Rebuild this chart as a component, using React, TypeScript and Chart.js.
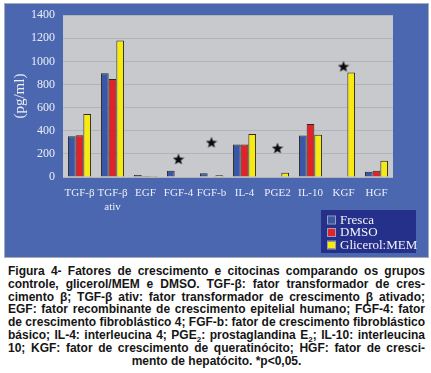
import React, { useEffect, useRef } from "react";
import { Chart, registerables } from "chart.js";

Chart.register(...registerables);

const categories: (string | string[])[] = [
  "TGF-β",
  ["TGF-β", "ativ"],
  "EGF",
  "FGF-4",
  "FGF-b",
  "IL-4",
  "PGE2",
  "IL-10",
  "KGF",
  "HGF",
];
const seriesLabels = ["Fresca", "DMSO", "Glicerol:MEM"];
const fresca = [353, 897, 17, 54, 32, 282, 0, 359, 0, 46];
const dmso = [362, 847, 8, 0, 0, 282, 0, 459, 0, 54];
const glicerolMem = [546, 1181, 8, 0, 15, 373, 37, 365, 905, 140];
// positions of significance stars (*p<0,05), in pg/ml
const significance = [null, null, null, 155, 300, null, 250, null, 957, null];
const yMin = 0;
const yMax = 1400;
const yStep = 200;
const yTitle = "(pg/ml)";

const colors = {
  frame: "#4a67b0",
  frameEdge: "#a9acb8",
  plot: "#c8c9cd",
  grid: "#b3b4ba",
  tick: "#eceff8",
  legendBox: "#25308b",
  fresca: "#3a56a8",
  dmso: "#e4202a",
  glicerol: "#f6ea12",
  barBorder: "#2c2a1c",
};

const subStyle: React.CSSProperties = { fontSize: "8px", verticalAlign: "-3px", lineHeight: 0 };

const captionLines: React.ReactNode[] = [
  "Figura 4- Fatores de crescimento e citocinas comparando os grupos",
  "controle, glicerol/MEM e DMSO. TGF-β: fator transformador de cres-",
  "cimento β; TGF-β ativ: fator transformador de crescimento β ativado;",
  "EGF: fator recombinante de crescimento epitelial humano; FGF-4: fator",
  "de crescimento fibroblástico 4; FGF-b: fator de crescimento fibroblástico",
  <>
    básico; IL-4: interleucina 4; PGE<sub style={subStyle}>2</sub>: prostaglandina E
    <sub style={subStyle}>2</sub>; IL-10: interleucina
  </>,
  "10; KGF: fator de crescimento de queratinócito; HGF: fator de cresci-",
];
const captionLast = "mento de hepatócito. *p<0,05.";

function makeStar(size: number): HTMLCanvasElement {
  const c = document.createElement("canvas");
  c.width = size;
  c.height = size;
  const g = c.getContext("2d")!;
  const cx = size / 2;
  const cy = size / 2 + 0.5;
  const R = size / 2;
  const r = R * 0.42;
  g.beginPath();
  for (let i = 0; i < 10; i++) {
    const a = -Math.PI / 2 + (i * Math.PI) / 5;
    const rad = i % 2 === 0 ? R : r;
    const x = cx + rad * Math.cos(a);
    const y = cy + rad * Math.sin(a);
    if (i === 0) g.moveTo(x, y);
    else g.lineTo(x, y);
  }
  g.closePath();
  g.fillStyle = "#0a0a0a";
  g.fill();
  return c;
}

export default function App() {
  const canvasRef = useRef<HTMLCanvasElement | null>(null);
  const captionRef = useRef<HTMLDivElement | null>(null);

  useEffect(() => {
    document.body.style.margin = "0";
    const canvas = canvasRef.current!;
    const star = makeStar(12);

    const framePlugin = {
      id: "frame",
      beforeDraw(chart: any) {
        const { ctx, chartArea } = chart;
        ctx.save();
        ctx.fillStyle = "#ffffff";
        ctx.fillRect(0, 0, chart.width, chart.height);
        ctx.fillStyle = colors.frameEdge;
        ctx.fillRect(4, 3, 425, 255);
        ctx.fillStyle = colors.frame;
        ctx.fillRect(5, 4, 423, 253);
        ctx.fillStyle = colors.plot;
        ctx.fillRect(chartArea.left, chartArea.top, chartArea.right - chartArea.left, chartArea.bottom - chartArea.top);
        ctx.restore();
      },
      afterDraw(chart: any) {
        const { ctx } = chart;
        ctx.save();
        const bx = 321, by = 210, bw = 95, bh = 43;
        ctx.fillStyle = colors.legendBox;
        ctx.fillRect(bx, by, bw, bh);
        ctx.font = '13px "Liberation Serif", "DejaVu Serif", serif';
        ctx.textBaseline = "middle";
        const fills = [colors.fresca, colors.dmso, colors.glicerol];
        for (let i = 0; i < 3; i++) {
          const ds = chart.data.datasets[i];
          const y = by + 10 + i * 12.5;
          ctx.fillStyle = fills[i];
          ctx.fillRect(bx + 7, y - 3.5, 7, 7);
          ctx.strokeStyle = "#9aa0b8";
          ctx.lineWidth = 1;
          ctx.strokeRect(bx + 6.5, y - 4, 8, 8);
          ctx.fillStyle = "#f2f3f8";
          ctx.fillText(ds.label, bx + 19, y + 0.5);
        }
        ctx.restore();
      },
    };

    const chart = new Chart(canvas, {
      type: "bar",
      data: {
        labels: categories as any,
        datasets: [
          {
            label: seriesLabels[0],
            data: fresca,
            backgroundColor: colors.fresca,
            borderColor: colors.barBorder,
            borderWidth: 1,
          },
          {
            label: seriesLabels[1],
            data: dmso,
            backgroundColor: colors.dmso,
            borderColor: colors.barBorder,
            borderWidth: 1,
          },
          {
            label: seriesLabels[2],
            data: glicerolMem,
            backgroundColor: colors.glicerol,
            borderColor: colors.barBorder,
            borderWidth: 1,
          },
          {
            type: "line",
            label: "*p<0,05",
            data: significance as any,
            showLine: false,
            pointStyle: star as any,
            pointRadius: 6,
            pointHoverRadius: 6,
          } as any,
        ],
      },
      options: {
        animation: false,
        responsive: false,
        maintainAspectRatio: false,
        layout: { padding: { left: 9, top: 15, right: 38, bottom: 0 } },
        datasets: {
          bar: { categoryPercentage: 0.7, barPercentage: 1.0 },
        } as any,
        plugins: {
          legend: { display: false },
          tooltip: { enabled: false },
          title: { display: false },
        },
        scales: {
          x: {
            grid: { display: false, drawTicks: false },
            border: { display: false },
            ticks: {
              color: colors.tick,
              font: { family: '"Liberation Serif", "DejaVu Serif", serif', size: 11 },
              padding: 10,
              maxRotation: 0,
              autoSkip: false,
            },
            afterFit(scale: any) {
              scale.height = 83;
            },
          },
          y: {
            min: yMin,
            max: yMax,
            grid: { color: colors.grid, lineWidth: 1, drawTicks: false },
            border: { display: false },
            ticks: {
              stepSize: yStep,
              color: colors.tick,
              font: { family: '"Liberation Serif", "DejaVu Serif", serif', size: 12 },
              padding: 8,
              callback: (v: any) => String(v),
            },
            title: {
              display: true,
              text: yTitle,
              color: colors.tick,
              font: { family: '"Liberation Serif", "DejaVu Serif", serif', size: 15 },
              padding: { top: 2, bottom: 2 },
            },
            afterFit(scale: any) {
              scale.width = 54;
            },
          },
        },
      },
      plugins: [framePlugin],
    });

    // justify caption lines; tighten lines that would overflow
    const cap = captionRef.current;
    if (cap) {
      const lines = Array.from(cap.querySelectorAll<HTMLDivElement>("[data-line]"));
      const W = cap.clientWidth;
      lines.forEach((ln) => {
        const span = ln.firstElementChild as HTMLSpanElement;
        const natural = span.getBoundingClientRect().width;
        if (natural > W) {
          const n = (span.textContent || "").length;
          span.style.letterSpacing = `${(W - natural) / n - 0.05}px`;
        }
      });
    }

    return () => chart.destroy();
  }, []);

  return (
    <div style={{ position: "relative", width: 431, height: 373, background: "#fff", overflow: "hidden" }}>
      <canvas ref={canvasRef} width={431} height={260} style={{ display: "block", width: 431, height: 260 }} />
      <div
        ref={captionRef}
        style={{
          position: "absolute",
          left: 8,
          top: 265,
          width: 417,
          fontFamily: '"Liberation Sans", Arial, sans-serif',
          fontWeight: "bold",
          fontSize: "12px",
          lineHeight: "12.8px",
          color: "#151515",
        }}
      >
        {captionLines.map((l, i) => (
          <div
            key={i}
            data-line="1"
            style={{ whiteSpace: "nowrap", textAlign: "justify", textAlignLast: "justify" as any }}
          >
            <span>{l}</span>
          </div>
        ))}
        <div style={{ textAlign: "center", whiteSpace: "nowrap" }}>{captionLast}</div>
      </div>
    </div>
  );
}
